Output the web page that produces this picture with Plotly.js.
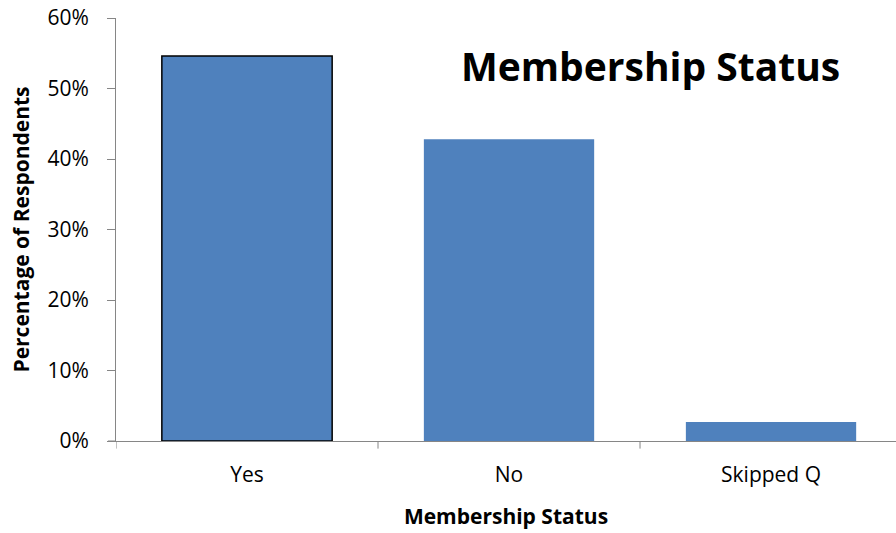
<!DOCTYPE html>
<html><head><meta charset="utf-8">
<script src="https://cdn.plot.ly/plotly-3.0.1.min.js"></script>
<style>html,body{margin:0;padding:0;background:#fff}#chart{width:896px;height:533px}</style>
</head><body><div id="chart"></div>
<script>
var categories = ["Yes", "No", "Skipped Q"];
var percentages = [54.6, 42.8, 2.7];
var yTickValues = [0, 10, 20, 30, 40, 50, 60];
var yTickLabels = ["0%", "10%", "20%", "30%", "40%", "50%", "60%"];

var FONT = "'Open Sans', sans-serif";
var trace = {
  type: "bar",
  x: [0, 1, 2],
  y: percentages,
  width: 0.65,
  marker: {color: "#4F81BD", line: {color: "#000", width: [1.5, 0, 0]}},
  hoverinfo: "skip"
};
var layout = {
  width: 896, height: 533,
  margin: {l: 116, r: 0, t: 18, b: 92},
  paper_bgcolor: "#fff", plot_bgcolor: "#fff",
  showlegend: false,
  font: {family: FONT, size: 20, color: "#000"},
  xaxis: {
    range: [-0.5, 2.477],
    tickvals: [0, 1, 2], ticktext: categories,
    showgrid: false, zeroline: false,
    showline: true, linecolor: "#868686", linewidth: 1,
    ticks: "", ticklabelstandoff: 15,
    tickfont: {family: FONT, size: 21, color: "#000"},
    title: {text: "<b>Membership Status</b>", font: {family: FONT, size: 21, color: "#000"}, standoff: 22}
  },
  yaxis: {
    range: [0, 60], tickvals: yTickValues, ticktext: yTickLabels,
    showgrid: false, zeroline: false,
    showline: true, linecolor: "#868686", linewidth: 1,
    ticks: "outside", ticklen: 8, tickcolor: "#868686",
    ticklabelstandoff: 14,
    tickfont: {family: FONT, size: 21, color: "#000"},
    title: {text: "<b>Percentage of Respondents</b>", font: {family: FONT, size: 21, color: "#000"}, standoff: 12}
  },
  shapes: [-0.5, 0.5, 1.5].map(function(v){
    return {type: "line", xref: "x", yref: "paper", x0: v, x1: v, y0: 0, y1: -0.018, line: {color: "#868686", width: 1}};
  }).concat([{type: "line", xref: "paper", yref: "y", x0: -0.0103, x1: 0, y0: 0, y1: 0, line: {color: "#868686", width: 1}}]),
  annotations: [{
    text: "<b>Membership Status</b>", xref: "paper", yref: "paper",
    x: (650 - 116) / 780, y: (441 - 65) / 423, xanchor: "center", yanchor: "middle",
    showarrow: false, font: {family: FONT, size: 39, color: "#000"}
  }]
};
Plotly.newPlot("chart", [trace], layout, {displayModeBar: false, staticPlot: true});
</script></body></html>
